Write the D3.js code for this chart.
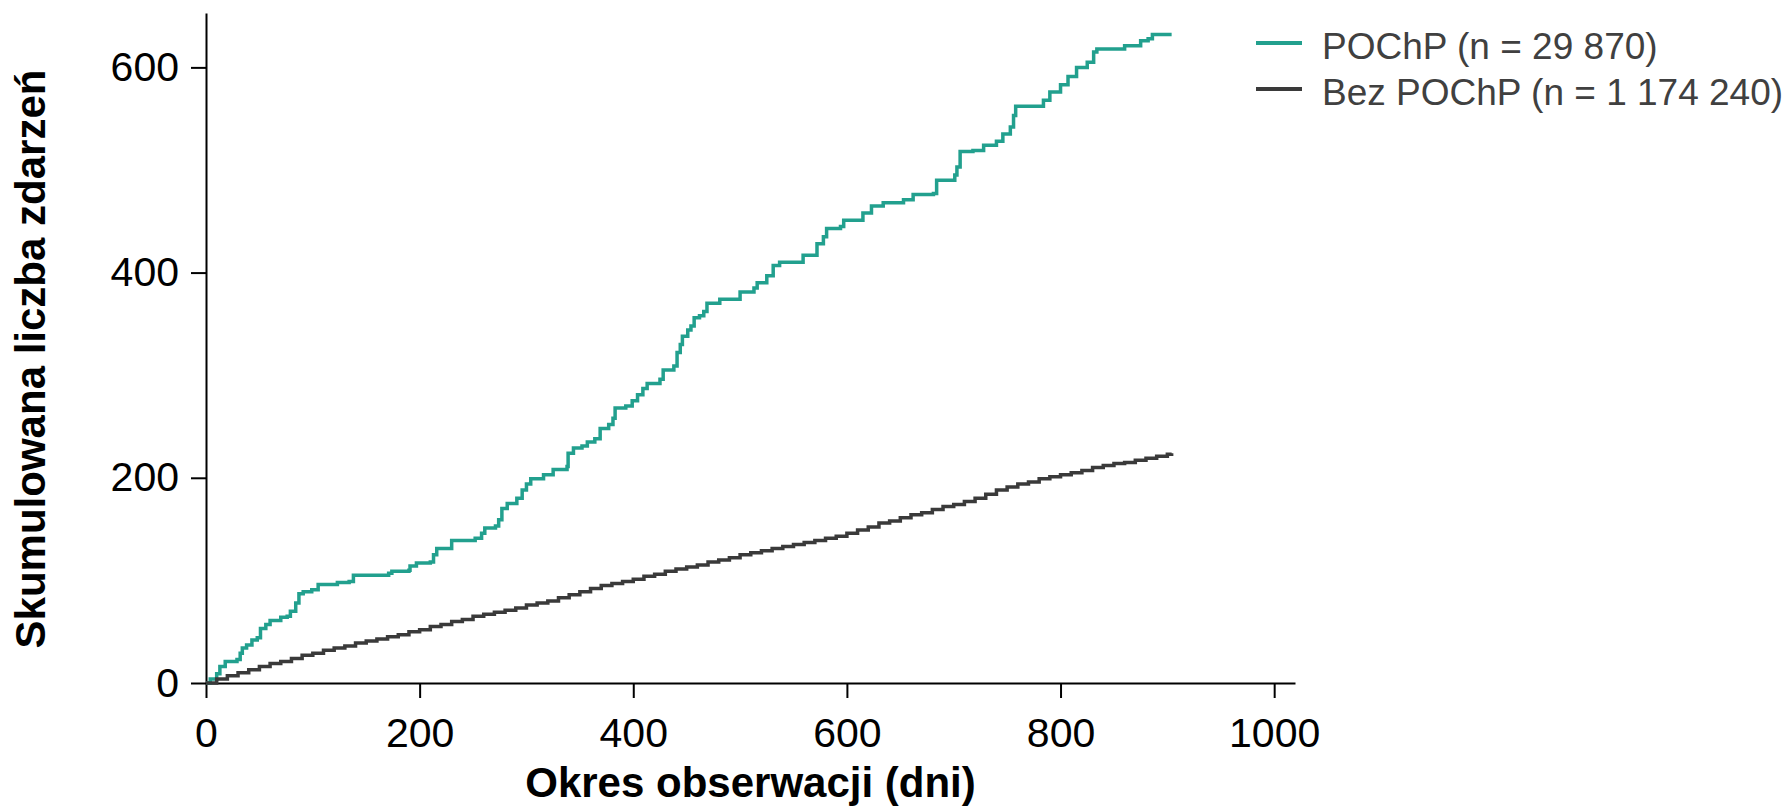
<!DOCTYPE html>
<html>
<head>
<meta charset="utf-8">
<script src="https://cdn.jsdelivr.net/npm/d3@7"></script>
<style>
  body { margin: 0; background: #fff; }
  svg { display: block; font-family: "Liberation Sans", Arial, sans-serif; }
</style>
</head>
<body>
<svg id="chart"></svg>
<script>
const W = 1790, H = 806;

const xTicks = [0, 200, 400, 600, 800, 1000];
const yTicks = [0, 200, 400, 600];
const seriesNames = ['POChP (n = 29 870)', 'Bez POChP (n = 1 174 240)'];
const seriesColors = ['#22a08e', '#3a3a3a'];

// POChP - cumulative events, step points (day the count jumps, new count)
const copdDays = [0, 4, 10, 13, 18, 29, 32, 34, 38, 43, 48, 51, 56, 60, 70, 76, 79, 84, 87, 91,
    99, 105, 123, 134, 138, 171, 174, 190, 191, 197, 210, 213, 216, 230, 252, 258, 261, 271, 274, 277,
    282, 291, 296, 300, 304, 316, 325, 338, 339, 344, 352, 357, 364, 369, 377, 381, 383, 393, 399, 404,
    409, 413, 425, 428, 438, 441, 444, 446, 451, 454, 457, 462, 466, 469, 481, 500, 513, 516, 525, 531,
    537, 559, 572, 578, 581, 594, 597, 615, 623, 634, 653, 662, 681, 684, 701, 703, 706, 718, 728, 740,
    746, 753, 756, 758, 778, 784, 790, 800, 807, 815, 825, 831, 834, 860, 875, 882, 886, 904];
const copdEvents = [0, 4, 9, 16, 21, 23, 29, 34, 37, 42, 44, 53, 57, 61, 64, 65, 70, 78, 87, 89,
    91, 96, 98, 99, 105, 107, 109, 110, 114, 117, 118, 125, 131, 139, 141, 146, 151, 153, 159, 170,
    175, 180, 188, 194, 199, 203, 208, 211, 224, 229, 231, 235, 238, 248, 252, 258, 268, 270, 275, 281,
    287, 292, 296, 305, 309, 322, 330, 338, 344, 348, 356, 358, 362, 370, 374, 381, 385, 390, 397, 407,
    410, 417, 428, 435, 443, 445, 451, 458, 465, 468, 471, 476, 477, 490, 495, 503, 518, 519, 524, 528,
    535, 542, 553, 562, 562, 568, 576, 583, 591, 600, 605, 615, 618, 621, 626, 628, 632, 632];

// Bez POChP - cumulative events read every 10 days
const noCopdDays = [0, 10, 20, 30, 40, 50, 60, 70, 80, 90, 100, 110, 120, 130, 140, 150, 160, 170, 180, 190,
    200, 210, 220, 230, 240, 250, 260, 270, 280, 290, 300, 310, 320, 330, 340, 350, 360, 370, 380, 390,
    400, 410, 420, 430, 440, 450, 460, 470, 480, 490, 500, 510, 520, 530, 540, 550, 560, 570, 580, 590,
    600, 610, 620, 630, 640, 650, 660, 670, 680, 690, 700, 710, 720, 730, 740, 750, 760, 770, 780, 790,
    800, 810, 820, 830, 840, 850, 860, 870, 880, 890, 900, 904];
const noCopdEvents = [0, 4, 7, 10, 13, 16, 19, 21, 24, 27, 29, 32, 34, 36, 39, 41, 43, 45, 47, 50,
    52, 55, 57, 60, 62, 65, 67, 69, 71, 73, 76, 78, 80, 83, 86, 89, 92, 95, 97, 99,
    101, 104, 106, 109, 111, 113, 115, 118, 120, 122, 125, 127, 129, 131, 133, 135, 137, 139, 141, 143,
    146, 149, 152, 156, 158, 161, 164, 166, 169, 172, 174, 177, 180, 184, 188, 191, 194, 196, 199, 201,
    203, 205, 207, 210, 212, 214, 215, 217, 219, 221, 223, 224];

const series = [
    { name: seriesNames[0], color: seriesColors[0], pts: copdDays.map((d, i) => [d, copdEvents[i]]) },
    { name: seriesNames[1], color: seriesColors[1], pts: noCopdDays.map((d, i) => [d, noCopdEvents[i]]) }
];

const svg = d3.select('#chart').attr('width', W).attr('height', H);

const x = d3.scaleLinear().domain([0, 1019.5]).range([206, 1295]);
const y = d3.scaleLinear().domain([0, 653]).range([683, 13]);

// axes
const xAxis = svg.append('g')
    .attr('transform', `translate(0,${y(0)})`)
    .call(d3.axisBottom(x).tickValues(xTicks).tickFormat(d3.format('d'))
        .tickSize(15).tickSizeOuter(0).tickPadding(20));
const yAxis = svg.append('g')
    .attr('transform', `translate(${x(0)},0)`)
    .call(d3.axisLeft(y).tickValues(yTicks).tickFormat(d3.format('d'))
        .tickSize(15).tickSizeOuter(0).tickPadding(12));

[xAxis, yAxis].forEach(g => {
    g.select('.domain').attr('stroke', '#000').attr('stroke-width', 2);
    g.selectAll('.tick line').attr('stroke', '#000').attr('stroke-width', 2);
    g.selectAll('.tick text')
        .attr('fill', '#000')
        .attr('font-size', '41px')
        .attr('font-family', '"Liberation Sans", Arial, sans-serif');
});

// cumulative step curves
const line = d3.line()
    .x(d => x(d[0]))
    .y(d => y(d[1]))
    .curve(d3.curveStepAfter);

svg.selectAll('.series')
    .data(series)
    .join('path')
    .attr('class', 'series')
    .attr('fill', 'none')
    .attr('stroke', d => d.color)
    .attr('stroke-width', 3.5)
    .attr('d', d => line(d.pts));

// axis titles
svg.append('text')
    .attr('x', (x.range()[0] + x.range()[1]) / 2)
    .attr('y', 797)
    .attr('text-anchor', 'middle')
    .attr('font-size', '42px')
    .attr('font-weight', 'bold')
    .attr('fill', '#000')
    .text('Okres obserwacji (dni)');

svg.append('text')
    .attr('transform', 'translate(45,359) rotate(-90)')
    .attr('text-anchor', 'middle')
    .attr('font-size', '42px')
    .attr('font-weight', 'bold')
    .attr('fill', '#000')
    .text('Skumulowana liczba zdarzeń');

// legend
const legend = svg.append('g').attr('transform', 'translate(1256,43)');
const item = legend.selectAll('g')
    .data(series)
    .join('g')
    .attr('transform', (d, i) => `translate(0,${i * 46})`);
item.append('line')
    .attr('x1', 0).attr('x2', 46)
    .attr('stroke', d => d.color)
    .attr('stroke-width', 4);
item.append('text')
    .attr('x', 66)
    .attr('y', 16)
    .attr('font-size', '37px')
    .attr('fill', '#404040')
    .text(d => d.name);
</script>
</body>
</html>
